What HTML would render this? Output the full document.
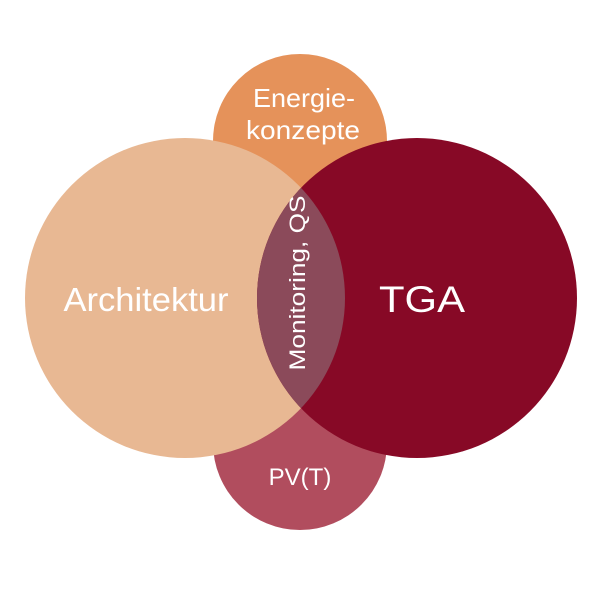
<!DOCTYPE html>
<html><head><meta charset="utf-8"><style>body{margin:0;background:#fff}</style></head><body>
<svg width="600" height="600" viewBox="0 0 600 600" xmlns="http://www.w3.org/2000/svg" font-family="Liberation Sans, sans-serif">
<defs><clipPath id="a"><circle cx="185" cy="298" r="160"/></clipPath></defs>
<circle cx="300" cy="141" r="87" fill="#e5925a"/>
<circle cx="300" cy="443" r="87" fill="#b14d5e"/>
<circle cx="185" cy="298" r="160" fill="#e8b893"/>
<circle cx="417" cy="298" r="160" fill="#870926"/>
<circle cx="417" cy="298" r="160" fill="#8b4a5a" clip-path="url(#a)"/>
<text x="304" y="107" fill="#fff" font-size="26" text-anchor="middle" textLength="102" lengthAdjust="spacingAndGlyphs">Energie-</text>
<text x="303" y="139" fill="#fff" font-size="26" text-anchor="middle" textLength="114" lengthAdjust="spacingAndGlyphs">konzepte</text>
<text x="146" y="311" fill="#fff" font-size="33" text-anchor="middle" textLength="165" lengthAdjust="spacingAndGlyphs">Architektur</text>
<text x="422" y="312" fill="#fff" font-size="37" text-anchor="middle" textLength="86" lengthAdjust="spacingAndGlyphs">TGA</text>
<text x="300" y="485" fill="#fff" font-size="24" text-anchor="middle">PV(T)</text>
<text transform="translate(305,283) rotate(-90)" fill="#fff" font-size="22" text-anchor="middle" textLength="175" lengthAdjust="spacingAndGlyphs">Monitoring, QS</text>
</svg>
</body></html>
